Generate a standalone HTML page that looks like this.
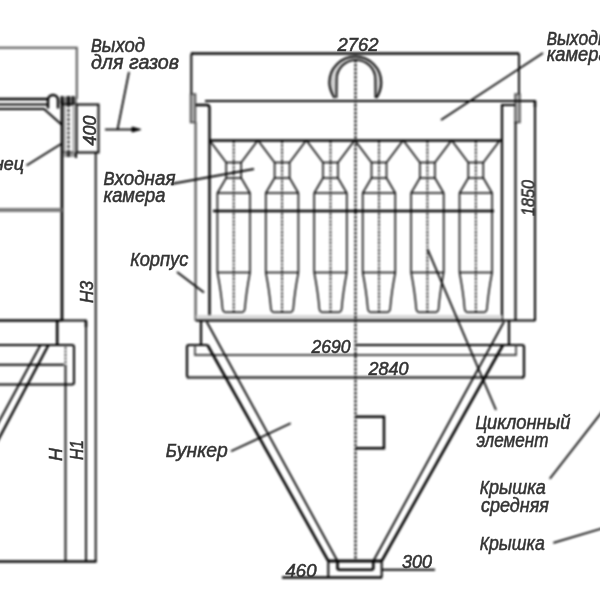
<!DOCTYPE html>
<html><head><meta charset="utf-8"><style>
html,body{margin:0;padding:0;background:#fff;width:600px;height:600px;overflow:hidden}
svg{display:block}
text{font-family:"Liberation Sans",sans-serif}
</style></head><body>
<svg width="600" height="600" viewBox="0 0 600 600" stroke-linecap="butt">
<defs><filter id="b" x="-10" y="-10" width="620" height="620" filterUnits="userSpaceOnUse" color-interpolation-filters="sRGB"><feGaussianBlur stdDeviation="1"/></filter><filter id="t" x="0" y="0" width="600" height="600" filterUnits="userSpaceOnUse" color-interpolation-filters="sRGB"><feGaussianBlur stdDeviation="0.5"/></filter></defs>
<rect x="0" y="0" width="600" height="600" fill="#fff"/>
<g filter="url(#b)">
<rect x="-10" y="-10" width="620" height="620" fill="#fff"/>
<path d="M-5,47.8 L76.8,47.8 L76.8,99" stroke="#555" stroke-width="2.0" fill="none" />
<line x1="-5.0" y1="99.0" x2="47.0" y2="99.0" stroke="#000" stroke-width="2.6" />
<line x1="-5.0" y1="104.5" x2="47.0" y2="104.5" stroke="#000" stroke-width="1.9" />
<path d="M-5,109 L44,109 L62,125" stroke="#000" stroke-width="1.9" fill="none" />
<path d="M48,108.5 L48,100 A5,5 0 0 1 58,100 L58,108.5" stroke="#000" stroke-width="2.4" fill="none" />
<rect x="60.0" y="96.5" width="17.0" height="7.5" stroke="#000" stroke-width="0" fill="#777" />
<line x1="62.0" y1="96.0" x2="62.0" y2="104.0" stroke="#000" stroke-width="2.0" />
<line x1="68.5" y1="96.0" x2="68.5" y2="104.0" stroke="#000" stroke-width="2.4" />
<line x1="73.0" y1="96.0" x2="73.0" y2="104.0" stroke="#000" stroke-width="1.8" />
<path d="M62,104.5 L98.5,104.5 L98.5,152.5 L62,152.5" stroke="#000" stroke-width="2.0" fill="none" />
<line x1="62.0" y1="100.0" x2="62.0" y2="320.0" stroke="#000" stroke-width="2.7" />
<line x1="64.8" y1="104.5" x2="64.8" y2="152.5" stroke="#888" stroke-width="1.4" />
<line x1="68.5" y1="104.5" x2="68.5" y2="152.5" stroke="#000" stroke-width="1.8" stroke-dasharray="3 1.5"/>
<rect x="72.5" y="104.5" width="4.0" height="48.0" stroke="#000" stroke-width="0" fill="#aaa" />
<line x1="76.8" y1="104.5" x2="76.8" y2="152.5" stroke="#000" stroke-width="1.6" />
<line x1="95.7" y1="152.5" x2="95.7" y2="562.0" stroke="#000" stroke-width="1.8" />
<rect x="63.0" y="152.5" width="14.0" height="4.5" stroke="#000" stroke-width="0" fill="#999" />
<line x1="68.5" y1="152.5" x2="68.5" y2="157.0" stroke="#000" stroke-width="2.0" />
<line x1="76.0" y1="152.5" x2="76.0" y2="158.0" stroke="#000" stroke-width="2.0" />
<line x1="-5.0" y1="210.0" x2="62.0" y2="210.0" stroke="#7a7a7a" stroke-width="3.9" />
<line x1="26.5" y1="165.5" x2="61.0" y2="144.0" stroke="#000" stroke-width="1.8" />
<line x1="-5.0" y1="320.5" x2="62.0" y2="320.5" stroke="#000" stroke-width="2.4" />
<path d="M62,320.5 L86,320.5 L86,562" stroke="#000" stroke-width="1.8" fill="none" />
<line x1="86.0" y1="321.0" x2="86.0" y2="327.0" stroke="#000" stroke-width="2.6" />
<line x1="57.2" y1="320.5" x2="57.2" y2="345.0" stroke="#000" stroke-width="2.6" />
<path d="M-5,345 L72,345 Q74,345 74,347 L74,382.5 Q74,384.5 72,384.5 L-5,384.5" stroke="#000" stroke-width="2.0" fill="none" />
<line x1="-5.0" y1="364.7" x2="64.0" y2="364.7" stroke="#000" stroke-width="2.0" />
<line x1="65.5" y1="347.0" x2="65.5" y2="364.7" stroke="#000" stroke-width="1.6" stroke-dasharray="2 1.5"/>
<line x1="65.5" y1="364.7" x2="65.5" y2="562.0" stroke="#000" stroke-width="1.8" />
<line x1="48.5" y1="345.0" x2="-5.0" y2="446.0" stroke="#000" stroke-width="2.4" />
<line x1="40.5" y1="345.0" x2="-5.0" y2="429.0" stroke="#000" stroke-width="1.9" />
<line x1="-5.0" y1="561.5" x2="96.5" y2="561.5" stroke="#000" stroke-width="2.6" />
<line x1="129.0" y1="72.0" x2="117.5" y2="129.5" stroke="#000" stroke-width="1.8" />
<line x1="105.0" y1="129.5" x2="134.0" y2="129.5" stroke="#000" stroke-width="1.8" />
<path d="M132,127 L141,129.5 L132,132 Z" stroke="#000" stroke-width="0.9" fill="#000" />
<line x1="191.0" y1="53.5" x2="519.0" y2="53.5" stroke="#000" stroke-width="2.4" />
<path d="M191.3,95 L191.3,55 Q191.3,53.5 193,53.5" stroke="#000" stroke-width="2.0" fill="none" />
<line x1="519.0" y1="53.5" x2="519.0" y2="95.0" stroke="#000" stroke-width="1.9" />
<rect x="190.5" y="94.0" width="5.0" height="28.5" stroke="#333" stroke-width="1.3" fill="#aaa" />
<rect x="515.0" y="94.0" width="5.0" height="28.5" stroke="#333" stroke-width="1.3" fill="#aaa" />
<line x1="195.6" y1="122.0" x2="195.6" y2="321.0" stroke="#555" stroke-width="2.2" />
<line x1="515.5" y1="122.0" x2="515.5" y2="321.0" stroke="#000" stroke-width="2.0" />
<path d="M205,101 L535,101 L535,321" stroke="#000" stroke-width="2.0" fill="none" />
<line x1="535.0" y1="101.0" x2="535.0" y2="107.0" stroke="#000" stroke-width="2.6" />
<path d="M196,105 L207,105 Q209.5,105 209.5,108 L209.5,318" stroke="#000" stroke-width="2.4" fill="none" />
<path d="M515,105 L502,105 L502,320" stroke="#000" stroke-width="2.2" fill="none" />
<line x1="210.0" y1="140.5" x2="502.0" y2="140.5" stroke="#000" stroke-width="2.4" />
<line x1="213.0" y1="211.0" x2="494.0" y2="211.0" stroke="#000" stroke-width="2.4" />
<rect x="196.0" y="315.0" width="306.0" height="6.0" stroke="#000" stroke-width="0" fill="#d8d8d8" />
<line x1="196.0" y1="320.6" x2="502.0" y2="320.6" stroke="#111" stroke-width="2.2" />
<line x1="502.0" y1="320.5" x2="535.0" y2="320.5" stroke="#000" stroke-width="1.9" />
<path d="M209.7,140.5 L226.2,162.5 L226.2,178 L217.4,193 L217.4,272.5 Q221.2,292 222.5,308.5 Q222.9,312.3 225.7,312.3 L241.7,312.3 Q244.5,312.3 244.9,308.5 Q246.2,292 250.0,272.5 L250.0,193 L241.2,178 L241.2,162.5 L257.7,140.5" stroke="#000" stroke-width="1.5" fill="none" />
<line x1="226.2" y1="162.5" x2="241.2" y2="162.5" stroke="#000" stroke-width="1.5" />
<line x1="226.2" y1="178.0" x2="241.2" y2="178.0" stroke="#000" stroke-width="1.5" />
<line x1="217.4" y1="193.0" x2="250.0" y2="193.0" stroke="#000" stroke-width="1.5" />
<line x1="217.4" y1="272.5" x2="250.0" y2="272.5" stroke="#000" stroke-width="1.5" />
<line x1="233.7" y1="141.0" x2="233.7" y2="312.0" stroke="#000" stroke-width="1.7" stroke-dasharray="2.2 1.4"/>
<path d="M258.1,140.5 L274.6,162.5 L274.6,178 L265.8,193 L265.8,272.5 Q269.6,292 270.9,308.5 Q271.3,312.3 274.1,312.3 L290.1,312.3 Q292.9,312.3 293.3,308.5 Q294.6,292 298.4,272.5 L298.4,193 L289.6,178 L289.6,162.5 L306.1,140.5" stroke="#000" stroke-width="1.5" fill="none" />
<line x1="274.6" y1="162.5" x2="289.6" y2="162.5" stroke="#000" stroke-width="1.5" />
<line x1="274.6" y1="178.0" x2="289.6" y2="178.0" stroke="#000" stroke-width="1.5" />
<line x1="265.8" y1="193.0" x2="298.4" y2="193.0" stroke="#000" stroke-width="1.5" />
<line x1="265.8" y1="272.5" x2="298.4" y2="272.5" stroke="#000" stroke-width="1.5" />
<line x1="282.1" y1="141.0" x2="282.1" y2="312.0" stroke="#000" stroke-width="1.7" stroke-dasharray="2.2 1.4"/>
<path d="M306.5,140.5 L323.0,162.5 L323.0,178 L314.2,193 L314.2,272.5 Q318.0,292 319.3,308.5 Q319.7,312.3 322.5,312.3 L338.5,312.3 Q341.3,312.3 341.7,308.5 Q343.0,292 346.8,272.5 L346.8,193 L338.0,178 L338.0,162.5 L354.5,140.5" stroke="#000" stroke-width="1.5" fill="none" />
<line x1="323.0" y1="162.5" x2="338.0" y2="162.5" stroke="#000" stroke-width="1.5" />
<line x1="323.0" y1="178.0" x2="338.0" y2="178.0" stroke="#000" stroke-width="1.5" />
<line x1="314.2" y1="193.0" x2="346.8" y2="193.0" stroke="#000" stroke-width="1.5" />
<line x1="314.2" y1="272.5" x2="346.8" y2="272.5" stroke="#000" stroke-width="1.5" />
<line x1="330.5" y1="141.0" x2="330.5" y2="312.0" stroke="#000" stroke-width="1.7" stroke-dasharray="2.2 1.4"/>
<path d="M355.0,140.5 L371.5,162.5 L371.5,178 L362.7,193 L362.7,272.5 Q366.5,292 367.8,308.5 Q368.2,312.3 371.0,312.3 L387.0,312.3 Q389.8,312.3 390.2,308.5 Q391.5,292 395.3,272.5 L395.3,193 L386.5,178 L386.5,162.5 L403.0,140.5" stroke="#000" stroke-width="1.5" fill="none" />
<line x1="371.5" y1="162.5" x2="386.5" y2="162.5" stroke="#000" stroke-width="1.5" />
<line x1="371.5" y1="178.0" x2="386.5" y2="178.0" stroke="#000" stroke-width="1.5" />
<line x1="362.7" y1="193.0" x2="395.3" y2="193.0" stroke="#000" stroke-width="1.5" />
<line x1="362.7" y1="272.5" x2="395.3" y2="272.5" stroke="#000" stroke-width="1.5" />
<line x1="379.0" y1="141.0" x2="379.0" y2="312.0" stroke="#000" stroke-width="1.7" stroke-dasharray="2.2 1.4"/>
<path d="M403.4,140.5 L419.9,162.5 L419.9,178 L411.1,193 L411.1,272.5 Q414.9,292 416.2,308.5 Q416.6,312.3 419.4,312.3 L435.4,312.3 Q438.2,312.3 438.6,308.5 Q439.9,292 443.7,272.5 L443.7,193 L434.9,178 L434.9,162.5 L451.4,140.5" stroke="#000" stroke-width="1.5" fill="none" />
<line x1="419.9" y1="162.5" x2="434.9" y2="162.5" stroke="#000" stroke-width="1.5" />
<line x1="419.9" y1="178.0" x2="434.9" y2="178.0" stroke="#000" stroke-width="1.5" />
<line x1="411.1" y1="193.0" x2="443.7" y2="193.0" stroke="#000" stroke-width="1.5" />
<line x1="411.1" y1="272.5" x2="443.7" y2="272.5" stroke="#000" stroke-width="1.5" />
<line x1="427.4" y1="141.0" x2="427.4" y2="312.0" stroke="#000" stroke-width="1.7" stroke-dasharray="2.2 1.4"/>
<path d="M451.8,140.5 L468.3,162.5 L468.3,178 L459.5,193 L459.5,272.5 Q463.3,292 464.6,308.5 Q465.0,312.3 467.8,312.3 L483.8,312.3 Q486.6,312.3 487.0,308.5 Q488.3,292 492.1,272.5 L492.1,193 L483.3,178 L483.3,162.5 L499.8,140.5" stroke="#000" stroke-width="1.5" fill="none" />
<line x1="468.3" y1="162.5" x2="483.3" y2="162.5" stroke="#000" stroke-width="1.5" />
<line x1="468.3" y1="178.0" x2="483.3" y2="178.0" stroke="#000" stroke-width="1.5" />
<line x1="459.5" y1="193.0" x2="492.1" y2="193.0" stroke="#000" stroke-width="1.5" />
<line x1="459.5" y1="272.5" x2="492.1" y2="272.5" stroke="#000" stroke-width="1.5" />
<line x1="475.8" y1="141.0" x2="475.8" y2="312.0" stroke="#000" stroke-width="1.7" stroke-dasharray="2.2 1.4"/>
<line x1="201.0" y1="321.0" x2="201.0" y2="345.0" stroke="#000" stroke-width="2.2" />
<line x1="509.0" y1="321.0" x2="509.0" y2="345.0" stroke="#000" stroke-width="2.2" />
<path d="M207.5,345 L189,345 Q187,345 187,347 L187,375.5 Q187,377.5 189,377.5" stroke="#000" stroke-width="2.2" fill="none" />
<line x1="187.0" y1="377.5" x2="523.0" y2="377.5" stroke="#333" stroke-width="2.6" />
<path d="M356,345 L522,345 Q524,345 524,347 L524,375.5 Q524,377.5 522,377.5" stroke="#000" stroke-width="2.2" fill="none" />
<path d="M195,345 L195,355 L516,355 L516,345" stroke="#444" stroke-width="1.8" fill="none" />
<line x1="207.5" y1="345.0" x2="328.3" y2="561.0" stroke="#000" stroke-width="2.6" />
<line x1="206.7" y1="321.7" x2="337.5" y2="561.0" stroke="#000" stroke-width="1.8" />
<line x1="503.0" y1="345.0" x2="381.7" y2="561.0" stroke="#000" stroke-width="2.6" />
<line x1="504.0" y1="321.7" x2="373.3" y2="561.0" stroke="#000" stroke-width="1.8" />
<line x1="328.0" y1="561.0" x2="382.0" y2="561.0" stroke="#000" stroke-width="2.8" />
<line x1="328.3" y1="561.0" x2="328.3" y2="577.5" stroke="#000" stroke-width="2.0" />
<line x1="381.7" y1="561.0" x2="381.7" y2="577.5" stroke="#000" stroke-width="2.0" />
<line x1="282.0" y1="577.5" x2="382.0" y2="577.5" stroke="#000" stroke-width="2.6" />
<line x1="337.5" y1="561.0" x2="337.5" y2="569.7" stroke="#000" stroke-width="1.8" />
<line x1="373.3" y1="561.0" x2="373.3" y2="569.7" stroke="#000" stroke-width="1.8" />
<path d="M337.5,561 L337.5,567.7 Q337.5,569.7 339.5,569.7 L371.3,569.7 Q373.3,569.7 373.3,567.7 L373.3,561" stroke="#000" stroke-width="2.4" fill="none" />
<line x1="382.0" y1="569.7" x2="435.0" y2="569.7" stroke="#000" stroke-width="1.9" />
<line x1="355.5" y1="56.0" x2="355.5" y2="561.0" stroke="#000" stroke-width="2.2" stroke-dasharray="2.5 1.5"/>
<path d="M356,416.8 L384,416.8 L384,448.2 L356,448.2" stroke="#000" stroke-width="2.4" fill="none" />
<path d="M334.5,98 C330,91 329.3,86 329.3,82.5 A26,26 0 0 1 381.3,82.5 C381.3,86 381,91 376.5,98 L375.5,98 L375.3,79.3 A19.3,19.3 0 0 0 336.7,79.3 L336.5,98 Z" stroke="#000" stroke-width="0" fill="#d0d0d0" />
<path d="M334.5,98 C330,91 329.3,86 329.3,82.5 A26,26 0 0 1 381.3,82.5 C381.3,86 381,91 376.5,98" stroke="#000" stroke-width="2.0" fill="none" />
<path d="M336.5,98 L336.7,79.3 A19.3,19.3 0 0 1 375.3,79.3 L375.5,98" stroke="#000" stroke-width="1.8" fill="none" />
<line x1="441.0" y1="120.0" x2="543.0" y2="53.0" stroke="#000" stroke-width="1.8" />
<line x1="171.0" y1="184.0" x2="254.0" y2="169.0" stroke="#000" stroke-width="1.8" />
<line x1="177.0" y1="272.0" x2="204.0" y2="292.5" stroke="#000" stroke-width="1.8" />
<line x1="427.5" y1="249.0" x2="496.0" y2="410.0" stroke="#000" stroke-width="1.8" />
<line x1="549.8" y1="478.7" x2="605.0" y2="408.0" stroke="#000" stroke-width="1.8" />
<line x1="553.3" y1="542.8" x2="605.0" y2="527.5" stroke="#000" stroke-width="1.8" />
<line x1="231.0" y1="451.3" x2="290.7" y2="423.3" stroke="#000" stroke-width="1.8" />
</g>
<g filter="url(#t)">
<text transform="translate(96,130.5) rotate(-90) " x="0" y="0" font-size="18.5" fill="#333" stroke="#333" stroke-width="0.55" font-style="italic" font-weight="normal" text-anchor="middle" textLength="30" lengthAdjust="spacingAndGlyphs"><tspan font-size="18.5">400</tspan></text>
<text transform="translate(-6,169.5) " x="0" y="0" font-size="19" fill="#333" stroke="#333" stroke-width="0.55" font-style="italic" font-weight="normal" text-anchor="start" textLength="30" lengthAdjust="spacingAndGlyphs"><tspan font-size="19">нец</tspan></text>
<text transform="translate(93,292) rotate(-90) " x="0" y="0" font-size="18.5" fill="#333" stroke="#333" stroke-width="0.55" font-style="italic" font-weight="normal" text-anchor="middle" textLength="22" lengthAdjust="spacingAndGlyphs"><tspan font-size="18.5">H3</tspan></text>
<text transform="translate(61.5,454.5) rotate(-90) " x="0" y="0" font-size="18.5" fill="#333" stroke="#333" stroke-width="0.55" font-style="italic" font-weight="normal" text-anchor="middle" textLength="13" lengthAdjust="spacingAndGlyphs"><tspan font-size="18.5">H</tspan></text>
<text transform="translate(83,450) rotate(-90) " x="0" y="0" font-size="18.5" fill="#333" stroke="#333" stroke-width="0.55" font-style="italic" font-weight="normal" text-anchor="middle" textLength="20" lengthAdjust="spacingAndGlyphs"><tspan font-size="18.5">H1</tspan></text>
<text transform="translate(91,52) " x="0" y="0" font-size="21" fill="#333" stroke="#333" stroke-width="0.55" font-style="italic" font-weight="normal" text-anchor="start" textLength="54" lengthAdjust="spacingAndGlyphs"><tspan font-size="18.4">В</tspan><tspan font-size="21">ыход</tspan></text>
<text transform="translate(91,69) " x="0" y="0" font-size="21" fill="#333" stroke="#333" stroke-width="0.55" font-style="italic" font-weight="normal" text-anchor="start" textLength="88" lengthAdjust="spacingAndGlyphs"><tspan font-size="21">для  газов</tspan></text>
<text transform="translate(358,51.3) " x="0" y="0" font-size="18.5" fill="#333" stroke="#333" stroke-width="0.55" font-style="italic" font-weight="normal" text-anchor="middle" textLength="41" lengthAdjust="spacingAndGlyphs"><tspan font-size="18.5">2762</tspan></text>
<text transform="translate(331,352.5) " x="0" y="0" font-size="18.5" fill="#333" stroke="#333" stroke-width="0.55" font-style="italic" font-weight="normal" text-anchor="middle" textLength="39" lengthAdjust="spacingAndGlyphs"><tspan font-size="18.5">2690</tspan></text>
<text transform="translate(388.5,375.3) " x="0" y="0" font-size="18.5" fill="#333" stroke="#333" stroke-width="0.55" font-style="italic" font-weight="normal" text-anchor="middle" textLength="40" lengthAdjust="spacingAndGlyphs"><tspan font-size="18.5">2840</tspan></text>
<text transform="translate(534.5,198) rotate(-90) " x="0" y="0" font-size="18.5" fill="#333" stroke="#333" stroke-width="0.55" font-style="italic" font-weight="normal" text-anchor="middle" textLength="36" lengthAdjust="spacingAndGlyphs"><tspan font-size="18.5">1850</tspan></text>
<text transform="translate(301,577) " x="0" y="0" font-size="18.5" fill="#333" stroke="#333" stroke-width="0.55" font-style="italic" font-weight="normal" text-anchor="middle" textLength="31" lengthAdjust="spacingAndGlyphs"><tspan font-size="18.5">460</tspan></text>
<text transform="translate(417,568) " x="0" y="0" font-size="18.5" fill="#333" stroke="#333" stroke-width="0.55" font-style="italic" font-weight="normal" text-anchor="middle" textLength="30" lengthAdjust="spacingAndGlyphs"><tspan font-size="18.5">300</tspan></text>
<text transform="translate(546.7,45.3) " x="0" y="0" font-size="21" fill="#333" stroke="#333" stroke-width="0.55" font-style="italic" font-weight="normal" text-anchor="start" textLength="80" lengthAdjust="spacingAndGlyphs"><tspan font-size="18.4">В</tspan><tspan font-size="21">ыходная</tspan></text>
<text transform="translate(546.7,61) " x="0" y="0" font-size="21" fill="#333" stroke="#333" stroke-width="0.55" font-style="italic" font-weight="normal" text-anchor="start" textLength="62" lengthAdjust="spacingAndGlyphs"><tspan font-size="21">камера</tspan></text>
<text transform="translate(103.5,184.5) " x="0" y="0" font-size="21" fill="#333" stroke="#333" stroke-width="0.55" font-style="italic" font-weight="normal" text-anchor="start" textLength="72" lengthAdjust="spacingAndGlyphs"><tspan font-size="18.4">В</tspan><tspan font-size="21">ходная</tspan></text>
<text transform="translate(103.5,202) " x="0" y="0" font-size="21" fill="#333" stroke="#333" stroke-width="0.55" font-style="italic" font-weight="normal" text-anchor="start" textLength="62" lengthAdjust="spacingAndGlyphs"><tspan font-size="21">камера</tspan></text>
<text transform="translate(130.3,266) " x="0" y="0" font-size="21" fill="#333" stroke="#333" stroke-width="0.55" font-style="italic" font-weight="normal" text-anchor="start" textLength="58" lengthAdjust="spacingAndGlyphs"><tspan font-size="18.4">К</tspan><tspan font-size="21">орпус</tspan></text>
<text transform="translate(165.8,457) " x="0" y="0" font-size="21" fill="#333" stroke="#333" stroke-width="0.55" font-style="italic" font-weight="normal" text-anchor="start" textLength="62" lengthAdjust="spacingAndGlyphs"><tspan font-size="18.4">Б</tspan><tspan font-size="21">ункер</tspan></text>
<text transform="translate(475.4,429) " x="0" y="0" font-size="21" fill="#333" stroke="#333" stroke-width="0.55" font-style="italic" font-weight="normal" text-anchor="start" textLength="95" lengthAdjust="spacingAndGlyphs"><tspan font-size="18.4">Ц</tspan><tspan font-size="21">иклонный</tspan></text>
<text transform="translate(476.5,446.6) " x="0" y="0" font-size="21" fill="#333" stroke="#333" stroke-width="0.55" font-style="italic" font-weight="normal" text-anchor="start" textLength="72" lengthAdjust="spacingAndGlyphs"><tspan font-size="21">элемент</tspan></text>
<text transform="translate(479.8,493.8) " x="0" y="0" font-size="21" fill="#333" stroke="#333" stroke-width="0.55" font-style="italic" font-weight="normal" text-anchor="start" textLength="66" lengthAdjust="spacingAndGlyphs"><tspan font-size="18.4">К</tspan><tspan font-size="21">рышка</tspan></text>
<text transform="translate(481,512.3) " x="0" y="0" font-size="21" fill="#333" stroke="#333" stroke-width="0.55" font-style="italic" font-weight="normal" text-anchor="start" textLength="68" lengthAdjust="spacingAndGlyphs"><tspan font-size="21">средняя</tspan></text>
<text transform="translate(479.8,549.8) " x="0" y="0" font-size="21" fill="#333" stroke="#333" stroke-width="0.55" font-style="italic" font-weight="normal" text-anchor="start" textLength="65" lengthAdjust="spacingAndGlyphs"><tspan font-size="18.4">К</tspan><tspan font-size="21">рышка</tspan></text>
</g>
</svg>
</body></html>
